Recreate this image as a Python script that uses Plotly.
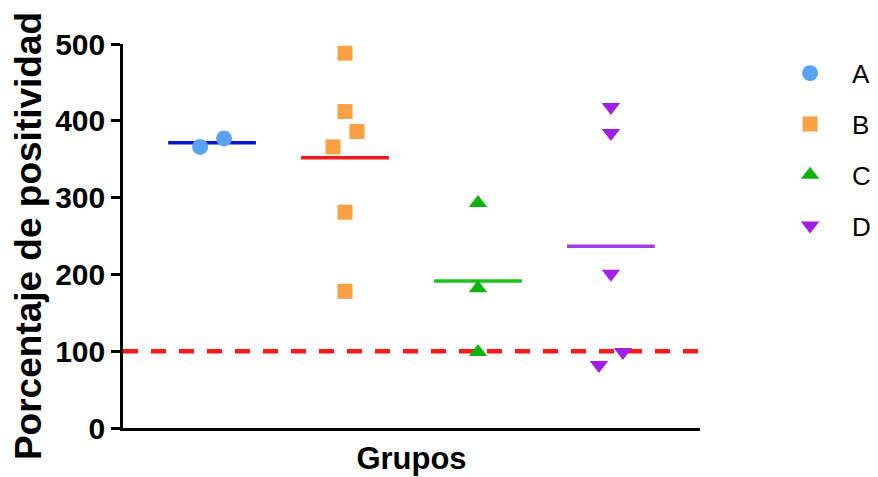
import numpy as np
import plotly.graph_objects as go

groups = ["A", "B", "C", "D"]
values = {
    "A": [366, 377],
    "B": [488, 412, 386, 366, 281, 178],
    "C": [293, 182, 99],
    "D": [418, 384, 201, 82, 99],
}
jitter = {
    "A": [-0.09, 0.09],
    "B": [0, 0, 0.09, -0.09, 0, 0],
    "C": [0, 0, 0],
    "D": [0, 0, 0, -0.09, 0.09],
}
marker_colors = ["#5aa2f4", "#f8a042", "#0db30d", "#a21ee8"]
line_colors = ["#0a14d2", "#f01818", "#1cc21c", "#a43be6"]
symbols = ["circle", "square", "triangle-up", "triangle-down"]
sizes = [16, 15, 16, 16]
threshold = 100
y_ticks = [0, 100, 200, 300, 400, 500]

FONT = "Liberation Sans, Arial, sans-serif"
fig = go.Figure()

for i, g in enumerate(groups):
    xc = i + 1
    m = float(np.mean(values[g]))
    fig.add_trace(go.Scatter(
        x=[xc - 0.33, xc + 0.33], y=[m, m], mode="lines",
        line=dict(color=line_colors[i], width=3.5),
        showlegend=False, hoverinfo="skip"))

for i, g in enumerate(groups):
    xc = i + 1
    fig.add_trace(go.Scatter(
        x=[xc + j for j in jitter[g]], y=values[g], mode="markers", name=g,
        legendgroup=g,
        marker=dict(color=marker_colors[i], symbol=symbols[i], size=sizes[i],
                    line=dict(width=0))))

fig.add_shape(type="line", xref="paper", x0=0, x1=1, yref="y", y0=threshold, y1=threshold,
              line=dict(color="#ff1a1a", width=4.5, dash="15px,13px"), layer="below")

fig.update_layout(
    width=878, height=477,
    margin=dict(l=115, r=186, t=36, b=57, autoexpand=False),
    plot_bgcolor="white", paper_bgcolor="white",
    font=dict(family=FONT, color="black"),
    legend=dict(x=1.118, y=0.985, xanchor="left", yanchor="top",
                font=dict(size=26, family=FONT, color="black"),
                itemwidth=74,
                tracegroupgap=14, bgcolor="rgba(0,0,0,0)"),
    xaxis=dict(range=[0.33, 4.67], showticklabels=False, ticks="",
               showgrid=False, zeroline=False, showline=True,
               linecolor="black", linewidth=2.5, automargin=False,
               title=dict(text="<b>Grupos</b>", font=dict(size=31, family=FONT), standoff=18)),
    yaxis=dict(range=[0, 500], tickvals=y_ticks, ticks="outside", ticklen=9,
               tickwidth=2.5, tickcolor="black",
               showgrid=False, zeroline=False, showline=True,
               linecolor="black", linewidth=2.5, automargin=False,
               tickfont=dict(size=30, family=FONT, weight="bold"),
               title=dict(text="<b>Porcentaje de positividad</b>",
                          font=dict(size=37, family=FONT), standoff=4)),
)

fig.write_html("out.html")
